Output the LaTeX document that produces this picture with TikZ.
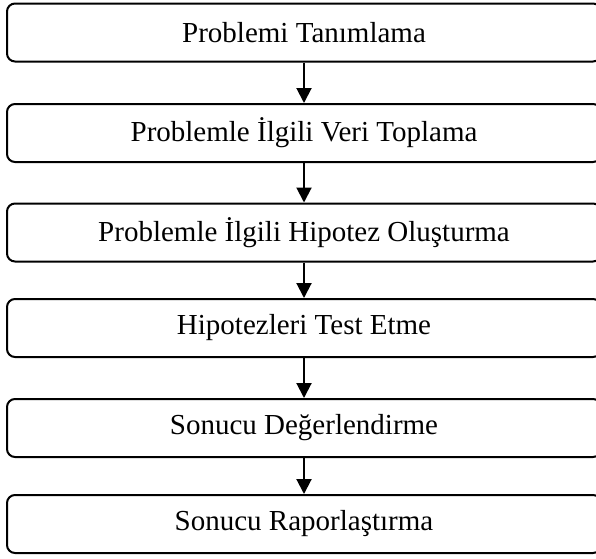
\documentclass[tikz,border=0pt]{standalone}
\usepackage{fontspec}
\setmainfont{Liberation Serif}
\usepackage{tikz}
\usetikzlibrary{arrows,arrows.meta}
\tikzset{adim/.style={draw=black, line width=2pt, rounded corners=8pt, minimum width=594pt, minimum height=58pt, inner sep=0pt, font=\fontsize{29}{34}\selectfont}}
\tikzset{ok/.style={black, line width=2pt, -{Triangle[length=15pt,width=15pt]}}}

\begin{document}
\begin{tikzpicture}[x=1pt,y=-1pt]
\useasboundingbox (0,0) rectangle (596,558);
\clip (0,0) rectangle (596,558);
\node[adim] (tanim) at (304,32.5) {Problemi Tanımlama};
\node[adim] (veri) at (304,133) {Problemle İlgili Veri Toplama};
\node[adim] (hipotez) at (304,232.5) {Problemle İlgili Hipotez Oluşturma};
\node[adim] (test) at (304,328) {Hipotezleri Test Etme};
\node[adim] (deger) at (304,428) {Sonucu Değerlendirme};
\node[adim] (rapor) at (304,524) {Sonucu Raporlaştırma};
\draw[ok] (tanim) -- (veri);
\draw[ok] (veri) -- (hipotez);
\draw[ok] (hipotez) -- (test);
\draw[ok] (test) -- (deger);
\draw[ok] (deger) -- (rapor);
\end{tikzpicture}
\end{document}
